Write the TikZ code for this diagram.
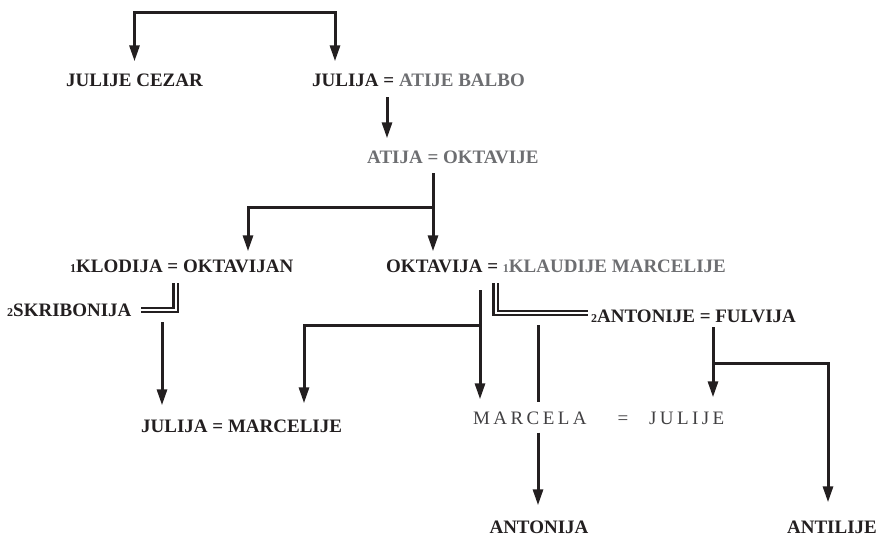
\documentclass[tikz,border=0pt]{standalone}
\usepackage{fontspec}
\setmainfont{Liberation Serif}
\usepackage{xcolor}
\usetikzlibrary{arrows.meta, positioning, calc}
\definecolor{ink}{HTML}{231F20}
\definecolor{tgray}{HTML}{6D6E71}
\definecolor{mgray}{HTML}{414042}
\newcommand{\nsub}[1]{{\fontsize{12}{12}\selectfont #1}}

\tikzset{
  person/.style={inner sep=0pt, text height=13pt, text depth=0pt, text=ink,
    font=\fontsize{19}{22}\selectfont\bfseries},
  spaced/.style={person, text=mgray,
    font=\fontsize{19}{22}\selectfont\mdseries\addfontfeatures{LetterSpace=18}},
  link/.style={ink, line width=3pt, -{Triangle[length=16pt,width=10pt]}, shorten >=12pt},
  plain/.style={ink, line width=3pt},
  wed/.style={ink, double=white, line width=2.3pt, double distance=2pt}
}

\begin{document}
\begin{tikzpicture}[x=1pt, y=-1pt]
\useasboundingbox (0,0) rectangle (879,541);

% Names
\node[person] (cezar) at (134.5,80) {JULIJE CEZAR};
\node[person, anchor=west] (julija) at (312,80) {JULIJA = \textcolor{tgray}{ATIJE BALBO}};
\node[person, anchor=west, text=tgray] (atija) at (367,157) {ATIJA = OKTAVIJE};
\node[person, anchor=west] (klodija) at (70,266) {\nsub{1}KLODIJA = OKTAVIJAN};
\node[person, anchor=west] (oktavija) at (386,266) {OKTAVIJA = \textcolor{tgray}{\nsub{1}KLAUDIJE MARCELIJE}};
\node[person, anchor=west] (skribonija) at (7,310) {\nsub{2}SKRIBONIJA};
\node[person, anchor=west] (antonije) at (591,316) {\nsub{2}ANTONIJE = FULVIJA};
\node[person, anchor=west] (marcelije) at (141,426) {JULIJA = MARCELIJE};
\node[spaced, anchor=west] (marcela) at (473,418) {MARCELA};
\node[spaced] (eq) at (623,418) {=};
\node[spaced, anchor=west] (julije) at (649,418) {JULIJE};
\node[person] (antonija) at (539,527) {ANTONIJA};
\node[person] (antilije) at (832,527) {ANTILIJE};

% Line points
\coordinate (top) at (335,12);
\coordinate (s1) at (387,97);
\coordinate (s2) at (433,173);
\coordinate (j2) at (433,207);
\coordinate (k2) at (248,207);
\coordinate (w1) at (175.5,283);
\coordinate (s3) at (162,322);
\coordinate (w2) at (495.5,283);
\coordinate (s4) at (480,290);
\coordinate (j4) at (480,325);
\coordinate (k4) at (304,325);
\coordinate (s5) at (538,325);
\coordinate (s6) at (713,327);
\coordinate (j6) at (713,363);
\coordinate (k6) at (828,363);

% Julije Cezar and Julija
\draw[link, {Triangle[length=16pt,width=10pt]}-{Triangle[length=16pt,width=10pt]}, shorten <=12pt]
  (cezar.north) |- (top) -- (julija.north -| top);
\draw[link] (s1) -- (atija.north -| s1);

% Atija
\draw[link, shorten >=8pt] (s2) -- (oktavija.north -| s2);
\draw[link, shorten >=8pt] (j2) -- (k2) -- (klodija.north -| k2);

% Oktavijan
\draw[wed] (w1) |- ([xshift=9pt]skribonija.east);
\draw[link, shorten >=14pt] (s3) -- (marcelije.north -| s3);

% Oktavija
\draw[link] (s4) -- (marcela.north -| s4);
\draw[link, shorten >=16pt] (j4) -- (k4) -- (marcelije.north -| k4);
\draw[wed] (w2) |- ([shift={(-3pt,3pt)}]antonije.west);
\draw[plain, shorten >=9pt] (s5) -- (marcela.north -| s5);
\draw[link, shorten <=8pt, shorten >=15pt] (marcela.south -| s5) -- (antonija.north -| s5);

% Antonije
\draw[link, shorten >=14pt] (s6) -- (julije.north -| s6);
\draw[link, shorten >=18pt] (j6) -- (k6) -- (antilije.north -| k6);
\end{tikzpicture}
\end{document}
